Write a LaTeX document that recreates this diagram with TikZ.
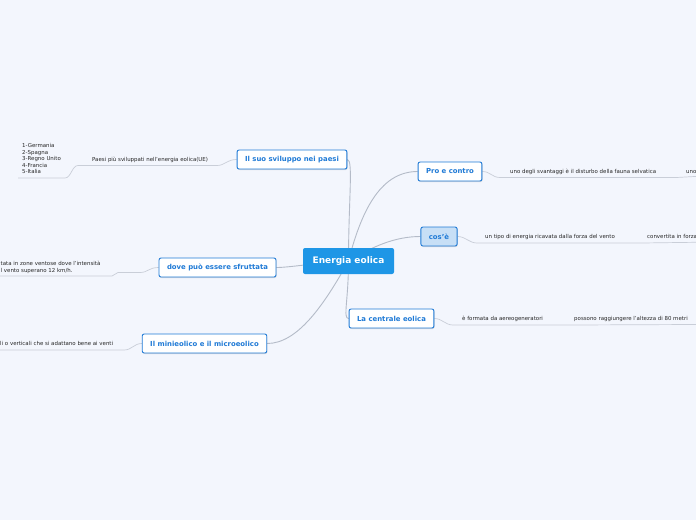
\documentclass[tikz,border=0pt]{standalone}
\usepackage{fontspec}
\setmainfont{DejaVu Sans}
\usetikzlibrary{shadows,backgrounds}
\definecolor{sfondo}{HTML}{F3F6FD}
\definecolor{blu}{HTML}{1E96E6}
\definecolor{bordo}{HTML}{1F7AD6}
\definecolor{celeste}{HTML}{C7DFF6}
\definecolor{grigioramo}{HTML}{B4BBC8}
\definecolor{grigioriga}{HTML}{C9CED8}
\tikzset{
  centrale/.style = {rectangle, rounded corners=2pt, fill=blu, text=white, font=\fontsize{9}{10}\selectfont\bfseries, minimum width=91pt, minimum height=26pt, inner sep=0},
  tema/.style     = {rectangle, rounded corners=2pt, draw=bordo, line width=0.9pt, fill=white, text=bordo, font=\fontsize{6.9}{8}\selectfont\bfseries, minimum height=19pt, inner xsep=8pt, inner ysep=0, drop shadow={shadow xshift=0.6pt, shadow yshift=-1pt, opacity=0.25}},
  nota/.style     = {font=\fontsize{5.45}{6.5}\selectfont, text=black!85, inner sep=0, anchor=base west},
  ramo/.style     = {draw=grigioramo, line width=0.9pt},
  riga/.style     = {draw=grigioriga, line width=0.7pt}
}

\begin{document}
\begin{tikzpicture}[x=1pt,y=-1pt]
  \useasboundingbox (0,0) rectangle (696,520);
  % nodo centrale e temi
  \node[centrale] (C) at (348.5,261) {Energia eolica};
  \node[tema] (S) at (292,159.5) {Il suo sviluppo nei paesi};
  \node[tema] (P) at (450,171.5) {Pro e contro};
  \node[tema, fill=celeste] (K) at (439,236.5) {cos'è};
  \node[tema] (D) at (217.5,267.5) {dove può essere sfruttata};
  \node[tema] (L) at (391.5,318.5) {La centrale eolica};
  \node[tema] (M) at (204.5,343.5) {Il minieolico e il microeolico};
  % sottotemi
  \node[nota] (Ps) at (92,161) {Paesi più sviluppati nell'energia eolica(UE)};
  \node[nota, align=left, anchor=north west] (Pl) at (22,143.2) {1-Germania\\2-Spagna\\3-Regno Unito\\4-Francia\\5-Italia};
  \node[nota, align=left, anchor=north west] (Dt) at (0.5,261.2) {tata in zone ventose dove l'intensità\\l vento superano 12 km/h.};
  \node[nota] (Mt) at (0,345.8) {li o verticali che si adattano bene ai venti};
  \node[nota] (Pt) at (510,173.5) {uno degli svantaggi è il disturbo della fauna selvatica};
  \node[nota] (Pu) at (686,173.5) {uno};
  \node[nota] (Kt) at (485,238.5) {un tipo di energia ricavata dalla forza del vento};
  \node[nota] (Kv) at (647,238.5) {convertita in forza};
  \node[nota] (Lt) at (462,320.8) {è formata da aereogeneratori};
  \node[nota] (Lp) at (574,320.8) {possono raggiungere l'altezza di 80 metri};
  % punti delle righe
  \coordinate (s1) at (217,165.5); \coordinate (s2) at (78,165.5); \coordinate (s3) at (65,178); \coordinate (s4) at (18,178);
  \coordinate (d1) at (140,272.5); \coordinate (d2) at (118,272.5); \coordinate (d3) at (112,276); \coordinate (d4) at (0,276);
  \coordinate (m1) at (124,350); \coordinate (m2) at (0,350);
  \coordinate (p1) at (500,177.5); \coordinate (p2) at (675,177.5); \coordinate (p3) at (696,176.5);
  \coordinate (k1) at (477,243); \coordinate (k2) at (640,243); \coordinate (k3) at (696,242.3);
  \coordinate (l1) at (453,325); \coordinate (l2) at (570,325); \coordinate (l3) at (696,324.5);
  \begin{scope}[on background layer]
    \fill[sfondo] (0,0) rectangle (696,520);
    \draw[ramo] (C.center) .. controls +(0,-60) and +(6,0) .. (S.east);
    \draw[ramo] (C.center) .. controls +(14,-55) and +(-35,0) .. (P.west);
    \draw[ramo] (C.center) .. controls +(25,-15) and +(-25,0) .. (K.west);
    \draw[ramo] (C.center) .. controls +(-20,0) and +(15,0) .. (D.east);
    \draw[ramo] (C.center) .. controls +(0,40) and +(-6,0) .. (L.west);
    \draw[ramo] (C.center) .. controls +(-25,45) and +(30,0) .. (M.east);
    \draw[riga] (S.west) .. controls +(-10,0) and +(8,0) .. (s1) -- (s2) .. controls +(-6,0) and +(6,0) .. (s3) -- (s4);
    \draw[riga] (D.west) .. controls +(-10,0) and +(8,0) .. (d1) -- (d2) .. controls +(-3,0) and +(3,0) .. (d3) -- (d4);
    \draw[riga] (M.west) .. controls +(-8,0) and +(8,0) .. (m1) -- (m2);
    \draw[riga] (P.east) .. controls +(8,0) and +(-8,0) .. (p1) -- (p2) .. controls +(4,0) and +(-4,0) .. (p3);
    \draw[riga] (K.east) .. controls +(8,0) and +(-8,0) .. (k1) -- (k2) .. controls +(4,0) and +(-4,0) .. (k3);
    \draw[riga] (L.east) .. controls +(8,0) and +(-8,0) .. (l1) -- (l2) .. controls +(4,0) and +(-4,0) .. (l3);
  \end{scope}
\end{tikzpicture}
\end{document}
